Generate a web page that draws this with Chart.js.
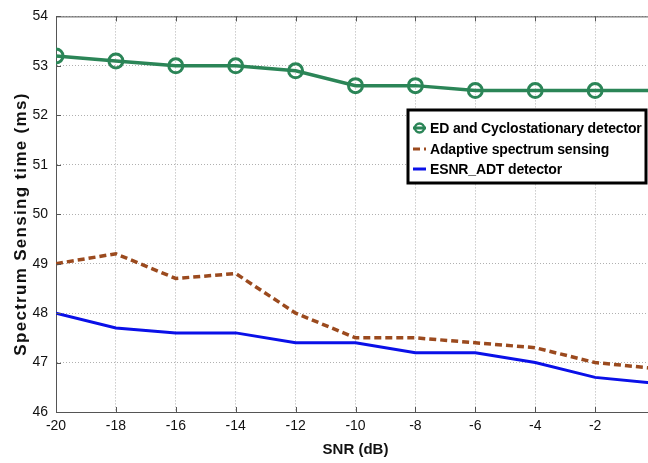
<!DOCTYPE html>
<html>
<head>
<meta charset="utf-8">
<script src="https://cdn.jsdelivr.net/npm/chart.js@4/dist/chart.umd.min.js"></script>
<style>
html,body{margin:0;padding:0;overflow:hidden;background:#fff;width:648px;height:463px;}
canvas{display:block;}
</style>
</head>
<body>
<canvas id="c" width="665" height="463" style="width:665px;height:463px"></canvas>
<script>
const snr = [-20, -18, -16, -14, -12, -10, -8, -6, -4, -2, 0];
const edCyclo = [53.2, 53.1, 53.0, 53.0, 52.9, 52.6, 52.6, 52.5, 52.5, 52.5, 52.5];
const adaptive = [49.0, 49.2, 48.7, 48.8, 48.0, 47.5, 47.5, 47.4, 47.3, 47.0, 46.88];
const esnrAdt = [48.0, 47.7, 47.6, 47.6, 47.4, 47.4, 47.2, 47.2, 47.0, 46.7, 46.58];
const yTicks = [46, 47, 48, 49, 50, 51, 52, 53, 54];
const xTicks = [-20, -18, -16, -14, -12, -10, -8, -6, -4, -2, 0];
const seriesNames = ['ED and Cyclostationary detector', 'Adaptive spectrum sensing', 'ESNR_ADT detector'];
const xTitle = 'SNR (dB)';
const yTitle = 'Spectrum Sensing time (ms)';

const toXY = arr => snr.map((x, i) => ({x: x, y: arr[i]}));
const FONT = 'Arial, "Liberation Sans", sans-serif';

const frame = {
  id: 'frame',
  afterDraw(chart) {
    const ctx = chart.ctx, a = chart.chartArea;
    const xs = chart.scales.x, ys = chart.scales.y;
    ctx.save();
    ctx.strokeStyle = '#555';
    ctx.lineWidth = 1;
    ctx.beginPath();
    ctx.moveTo(a.left, a.top + 0.5);
    ctx.lineTo(a.right, a.top + 0.5);
    xTicks.forEach(v => {
      const px = Math.round(xs.getPixelForValue(v)) + 0.5;
      ctx.moveTo(px, a.bottom); ctx.lineTo(px, a.bottom - 5);
      ctx.moveTo(px, a.top); ctx.lineTo(px, a.top + 5);
    });
    yTicks.forEach(v => {
      const py = Math.round(ys.getPixelForValue(v)) + 0.5;
      ctx.moveTo(a.left, py); ctx.lineTo(a.left + 5, py);
    });
    ctx.stroke();
    // y title
    ctx.save();
    ctx.translate(21, 224);
    ctx.rotate(-Math.PI / 2);
    ctx.font = 'bold 17px ' + FONT;
    if ('letterSpacing' in ctx) ctx.letterSpacing = '1.3px';
    ctx.fillStyle = '#111';
    ctx.textAlign = 'center';
    ctx.textBaseline = 'middle';
    ctx.fillText(yTitle, 0, 0);
    ctx.restore();
    // legend box
    const bx = 408, by = 110, bw = 238, bh = 73;
    ctx.fillStyle = '#fff';
    ctx.fillRect(bx, by, bw, bh);
    ctx.strokeStyle = '#000';
    ctx.lineWidth = 3;
    ctx.strokeRect(bx, by, bw, bh);
    ctx.font = 'bold 14px ' + FONT;
    if ('letterSpacing' in ctx) ctx.letterSpacing = '-0.15px';
    ctx.textBaseline = 'middle';
    ctx.textAlign = 'left';
    const ds = chart.data.datasets;
    const rows = [128, 149, 169];
    ds.forEach((d, i) => {
      const y = rows[i];
      ctx.strokeStyle = d.borderColor;
      ctx.lineWidth = 3;
      ctx.setLineDash(d.borderDash || []);
      ctx.beginPath();
      ctx.moveTo(413, y);
      ctx.lineTo(426, y);
      ctx.stroke();
      ctx.setLineDash([]);
      if (d.legendMarker) {
        ctx.lineWidth = 2.5;
        ctx.beginPath();
        ctx.arc(419.5, y, 4.5, 0, Math.PI * 2);
        ctx.stroke();
      }
      ctx.fillStyle = '#000';
      ctx.fillText(d.label, 430, y + 1);
    });
    ctx.restore();
  }
};

new Chart(document.getElementById('c'), {
  type: 'line',
  data: {
    datasets: [
      {
        label: seriesNames[0],
        legendMarker: true,
        data: toXY(edCyclo),
        borderColor: '#2b8557',
        backgroundColor: 'rgba(0,0,0,0)',
        borderWidth: 3.5,
        pointRadius: ctx => (ctx.raw && ctx.raw.x === 0 ? 0 : 7),
        pointBorderWidth: 3,
        pointBorderColor: '#2b8557',
        pointBackgroundColor: 'rgba(0,0,0,0)',
        tension: 0
      },
      {
        label: seriesNames[1],
        data: toXY(adaptive),
        borderColor: '#9b4a1e',
        borderWidth: 3.5,
        borderDash: [7, 4],
        pointRadius: 0,
        tension: 0
      },
      {
        label: seriesNames[2],
        data: toXY(esnrAdt),
        borderColor: '#0a10e8',
        borderWidth: 3,
        pointRadius: 0,
        tension: 0
      }
    ]
  },
  options: {
    responsive: false,
    animation: false,
    devicePixelRatio: 1,
    layout: {padding: {top: 15, right: 7, bottom: 0, left: 0}},
    plugins: {legend: {display: false}, tooltip: {enabled: false}},
    scales: {
      x: {
        type: 'linear',
        min: -20, max: 0,
        afterBuildTicks(s) { s.ticks = xTicks.map(v => ({value: v})); },
        afterFit(s) { s.height = 51; },
        grid: {color: '#b0b0b0', lineWidth: 1, drawTicks: false},
        border: {display: true, color: '#555', width: 1, dash: [1, 2]},
        ticks: {color: '#111', font: {family: FONT, size: 14}, padding: 6, maxRotation: 0, autoSkip: false},
        title: {display: true, text: xTitle, color: '#111', font: {family: FONT, size: 15, weight: 'bold'}, padding: {top: 0, bottom: 4}}
      },
      y: {
        type: 'linear',
        min: 46, max: 54,
        afterBuildTicks(s) { s.ticks = yTicks.map(v => ({value: v})); },
        afterFit(s) { s.width = 56; },
        grid: {color: '#b0b0b0', lineWidth: 1, drawTicks: false},
        border: {display: true, color: '#555', width: 1, dash: [1, 2]},
        ticks: {color: '#111', font: {family: FONT, size: 14}, padding: 8},
        title: {display: false}
      }
    }
  },
  plugins: [frame]
});
</script>
</body>
</html>
